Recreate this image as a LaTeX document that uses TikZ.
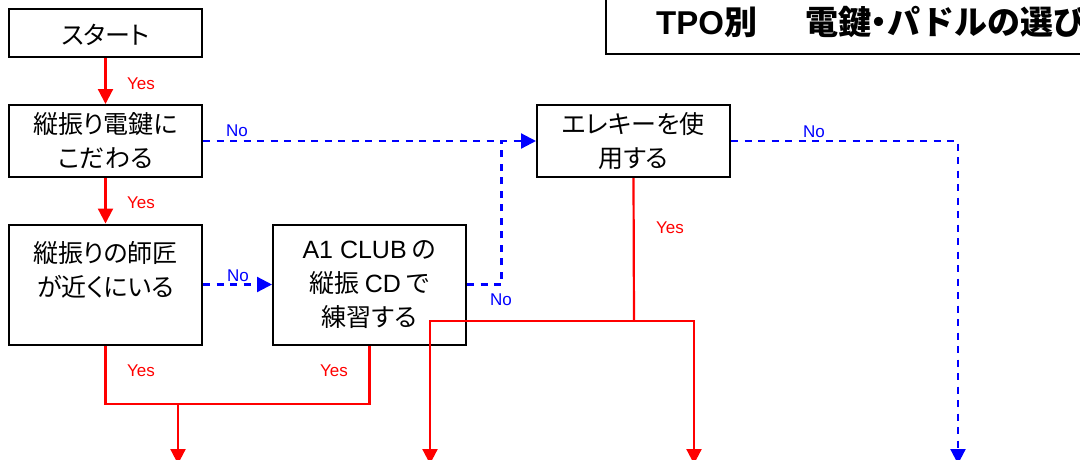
\documentclass[tikz,border=0pt]{standalone}
\usepackage{fontspec}
\setmainfont{Liberation Sans}
\newfontfamily\jp[RawFeature=+palt]{Noto Sans CJK JP}
\newfontfamily\jpt{Noto Sans CJK JP}
\newfontfamily\lat{Liberation Sans}
\newcommand\la[1]{{\lat #1}}
\usetikzlibrary{arrows.meta}
\begin{document}
\begin{tikzpicture}[x=1pt,y=-1pt,
  box/.style={draw=black, line width=2pt, inner sep=0pt, align=center,
    minimum width=193pt, font=\jp\fontsize{25}{34}\selectfont},
  yesline/.style={draw=red, line width=2.2pt},
  noline/.style={draw=blue, line width=2.2pt, dash pattern=on 7pt off 6.5pt},
  arr/.style={-{Triangle[length=15pt,width=15pt]}},
  ylab/.style={text=red, inner sep=0pt, font=\fontsize{17}{17}\selectfont},
  nlab/.style={text=blue, inner sep=0pt, font=\fontsize{17}{17}\selectfont}]
\useasboundingbox (0,0) rectangle (1080,459);
\clip (0,0) rectangle (1080,459);
\fill[white] (0,0) rectangle (1080,459);

% title
\node[draw=black, line width=2pt, minimum width=520pt, minimum height=90pt,
  anchor=south west, inner sep=0pt] (titlebox) at (605,55) {};
\node[anchor=west, inner sep=0pt, font=\jpt\bfseries\fontsize{33}{33}\selectfont] (title) at (656,22)
  {\la{\bfseries TPO}別\hspace*{48pt}電鍵{\jp\bfseries ・}パドルの選び方};

% boxes
\node[box, minimum height=48pt, text height=22pt, text depth=0pt] (start) at (105.5,33) {スタート};
\node[box, minimum height=72pt] (b2) at (105.5,141) {縦振り電鍵に\\こだわる};
\node[box, minimum height=120pt] (b3) at (105.5,284.5) {縦振りの師匠\\が近くにいる\\[-3pt]\mbox{}};
\node[box, minimum height=120pt] (b4) at (369.5,284.5) {\la{A1 CLUB} の\\縦振 \la{CD} で\\練習する\\[-32pt]\mbox{}};
\node[box, minimum height=72pt] (b5) at (633.5,141) {エレキーを使\\用する};

% coordinates
\coordinate (j1) at (501.5,141);
\coordinate (e1) at (958,464);
\coordinate (s1) at (634,321);
\coordinate (lt) at (430,464);
\coordinate (rt) at (694,464);
\coordinate (h1) at (105.5,404);
\coordinate (h2) at (178,404);
\coordinate (bt) at (178,464);

% yes connectors
\draw[yesline,arr] (start) -- (b2);
\draw[yesline,arr] (b2) -- (b3);
\draw[yesline] (b5.south) -- (s1);
\draw[yesline,arr] (s1) -| (lt);
\draw[yesline,arr] (s1) -| (rt);
\draw[yesline] (b3.south) -- (h1) -| (b4.south);
\draw[yesline,arr] (h2) -- (bt);

% no connectors
\draw[noline,arr] (b3.east) -- (b4.west);
\draw[noline] (b4.east) -| (j1);
\draw[noline,arr] (b2.east) -- (b5.west);
\draw[noline,arr] (b5.east) -| (e1);

% labels
\node[ylab] (y1) at (141,84) {Yes};
\node[ylab] (y2) at (141,203) {Yes};
\node[ylab] (y3) at (141,371) {Yes};
\node[ylab] (y4) at (334,371) {Yes};
\node[ylab] (y5) at (670,228) {Yes};
\node[nlab] (n1) at (237,131) {No};
\node[nlab] (n2) at (238,276) {No};
\node[nlab] (n3) at (501,300) {No};
\node[nlab] (n4) at (814,132) {No};
\end{tikzpicture}
\end{document}
